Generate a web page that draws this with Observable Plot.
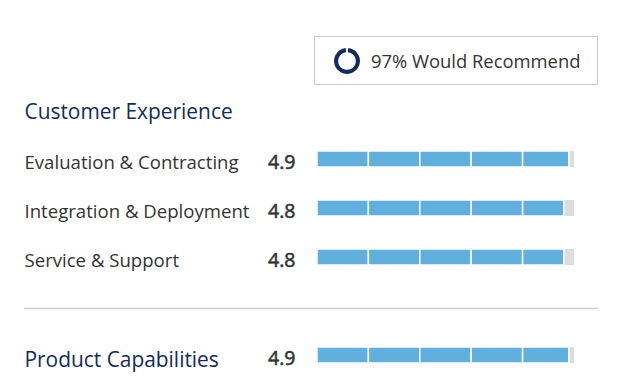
<!DOCTYPE html>
<html>
<head>
<meta charset="utf-8">
<script src="https://cdn.jsdelivr.net/npm/d3@7"></script>
<script src="https://cdn.jsdelivr.net/npm/@observablehq/plot@0.6"></script>
<style>
  html, body { margin: 0; padding: 0; background: #fff; }
  #wrap { position: relative; width: 624px; height: 387px; overflow: hidden; }
  #badge {
    position: absolute; left: 314px; top: 36px; width: 284px; height: 49px;
    border: 1px solid #c9c9c9; box-sizing: border-box;
    display: flex; align-items: center;
    font-family: "Open Sans", sans-serif; font-size: 18.4px; color: #333;
  }
  #badge svg { margin-left: 18px; margin-right: 10px; }
</style>
</head>
<body>
<div id="wrap">
  <div id="chart"></div>
  <div id="badge"></div>
</div>
<script>
// ---- data ----
const recommendPct = [97];
const recommendLabel = ["Would Recommend"];
const sections = ["Customer Experience", "Product Capabilities"];
const categories = ["Evaluation & Contracting", "Integration & Deployment", "Service & Support", "Product Capabilities"];
const scores = [4.9, 4.8, 4.8, 4.9];
const maxScore = [5];

// ---- layout slots (vertical order) ----
const slots = ["hdr", categories[0], categories[1], categories[2], "sep", categories[3]];

const rows = categories.map((c, i) => ({name: c, score: scores[i]}));
const segs = [];
rows.forEach(r => {
  for (let k = 0; k < maxScore[0]; k++) {
    if (r.score > k) segs.push({name: r.name, x1: k, x2: Math.min(k + 1, r.score)});
  }
});

const navy = "#132c5b";
const blue = "#60afdc";
const grey = "#dcdde0";
const font = "'Open Sans', sans-serif";

const p = 33 / 49;
const chart = Plot.plot({
  width: 624,
  height: 387,
  marginLeft: 24,
  marginRight: 26,
  marginTop: 0,
  marginBottom: 0,
  style: {fontFamily: font, background: "transparent"},
  x: {domain: [0, maxScore[0]], range: [317, 574], axis: null},
  y: {type: "band", domain: slots, range: [85.5, 379.5], paddingInner: p, paddingOuter: p / 2, axis: null},
  marks: [
    // grey background track
    Plot.barX(rows, {x1: 0, x2: maxScore[0], y: "name", fill: grey}),
    // blue segments
    Plot.barX(segs, {x1: "x1", x2: "x2", y: "name", fill: blue, stroke: "#fff", strokeWidth: 1.5}),
    // separator
    Plot.ruleY(["sep"], {y: d => d, stroke: "#cfcfcf", strokeWidth: 1.3, dy: 2}),
    // section header
    Plot.text([sections[0]], {y: () => "hdr", text: d => d, frameAnchor: "left", textAnchor: "start", fill: navy, fontSize: 20.9, dy: 1.5}),
    // category labels
    Plot.text(rows.slice(0, 3), {y: "name", text: "name", frameAnchor: "left", textAnchor: "start", fill: "#333", fontSize: 18.6, dy: 3.5}),
    Plot.text(rows.slice(3), {y: "name", text: "name", frameAnchor: "left", textAnchor: "start", fill: navy, fontSize: 20.9, dy: 4.5}),
    // values
    Plot.text(rows, {x: () => 0, y: "name", text: d => d.score.toFixed(1), textAnchor: "end", dx: -22, dy: 3, fill: "#333", stroke: "#333", strokeWidth: 0.55, fontSize: 19.5})
  ]
});
document.getElementById("chart").appendChild(chart);

// ---- badge with donut ----
const badge = d3.select("#badge");
const size = 28, r = 13, w = 4.2;
const svg = badge.append("svg").attr("width", size).attr("height", size);
const g = svg.append("g").attr("transform", `translate(${size/2},${size/2})`);
const arc = d3.arc().innerRadius(r - w).outerRadius(r);
const frac = recommendPct[0] / 100;
g.append("path").attr("d", arc({startAngle: 0, endAngle: 2 * Math.PI * frac})).attr("fill", navy).attr("transform", `rotate(${(1 - frac) * 180})`);
badge.append("span").text(`${recommendPct[0]}% ${recommendLabel[0]}`);
</script>
</body>
</html>
